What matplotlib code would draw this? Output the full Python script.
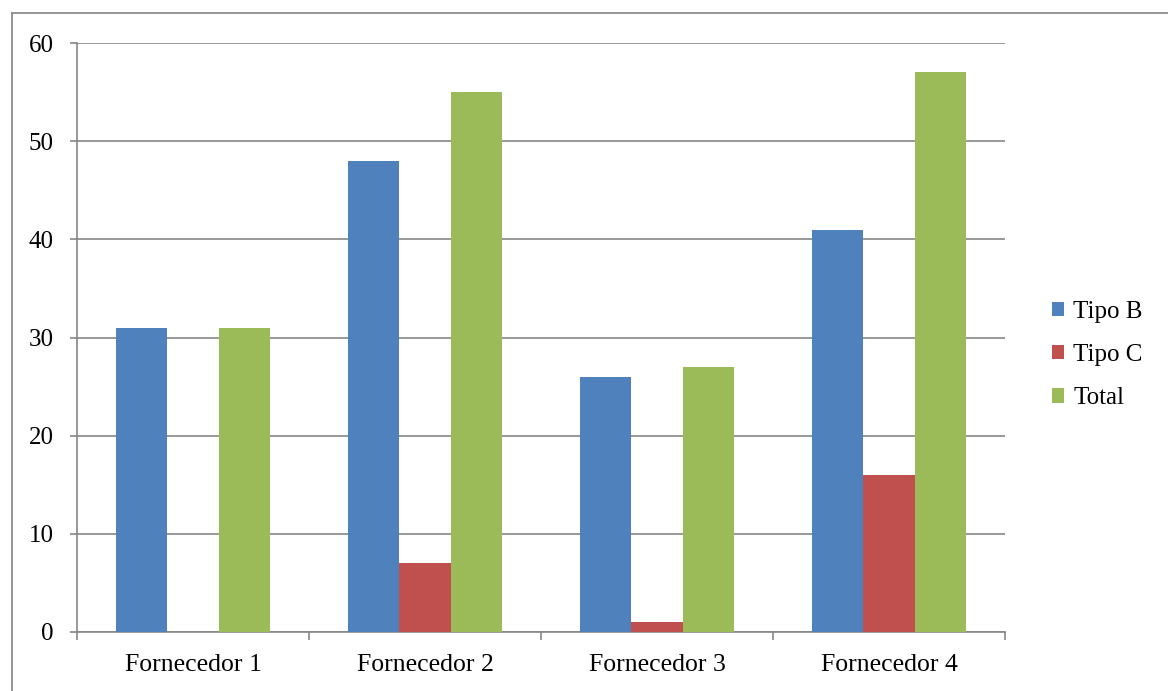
import matplotlib.pyplot as plt
import numpy as np
from matplotlib.lines import Line2D

# Quantidades por fornecedor
fornecedores = ['Fornecedor 1', 'Fornecedor 2', 'Fornecedor 3', 'Fornecedor 4']
tipo_b = [31, 48, 26, 41]
tipo_c = [0, 7, 1, 16]
total = [31, 55, 27, 57]

series = [('Tipo B', tipo_b, '#4F81BD'),
          ('Tipo C', tipo_c, '#C0504D'),
          ('Total', total, '#9BBB59')]

plt.rcParams['font.family'] = ['Liberation Serif', 'DejaVu Serif']

W, H = 1168, 691
fig = plt.figure(figsize=(W / 100, H / 100), dpi=100)
ax = fig.add_axes([77 / W, 1 - 632 / H, 928 / W, 589 / H])

x = np.arange(len(fornecedores))
w = 1 / 4.5
for i, (name, vals, color) in enumerate(series):
    ax.bar(x + (i - 1) * w, vals, width=w, color=color, label=name, zorder=3)

ax.set_xlim(-0.5, len(fornecedores) - 0.5)
ax.set_ylim(0, 60)
ax.set_yticks(range(0, 61, 10))
ax.yaxis.grid(True, color='#868686', linewidth=1.2, zorder=0)

# category labels sit between the boundary ticks
ax.set_xticks(np.arange(-0.5, len(fornecedores)), minor=False)
ax.set_xticklabels([])
ax.set_xticks(x, minor=True)
ax.set_xticklabels(fornecedores, minor=True)
ax.tick_params(axis='x', which='minor', length=0, pad=16, labelsize=18.5)
ax.tick_params(axis='x', which='major', length=6, color='#868686', width=1.2)
ax.tick_params(axis='y', length=5, color='#868686', width=1.2, labelsize=18, pad=12)

for s in ['top', 'right']:
    ax.spines[s].set_visible(False)
for s in ['left', 'bottom']:
    ax.spines[s].set_color('#868686')
    ax.spines[s].set_linewidth(1.2)

ax.legend(loc='center left', bbox_to_anchor=(1.037, 0.47), frameon=False,
          fontsize=18, handlelength=0.5, handleheight=0.5, handletextpad=0.35,
          labelspacing=0.85, borderpad=0)

# chart area border (top and left edges)
fig.add_artist(Line2D([12 / W, 12 / W], [0, 1 - 13 / H], transform=fig.transFigure,
                      color='#8c8c8c', linewidth=1.3))
fig.add_artist(Line2D([12 / W, 1], [1 - 13 / H, 1 - 13 / H], transform=fig.transFigure,
                      color='#8c8c8c', linewidth=1.3))

fig.savefig('out.png', dpi=100)
